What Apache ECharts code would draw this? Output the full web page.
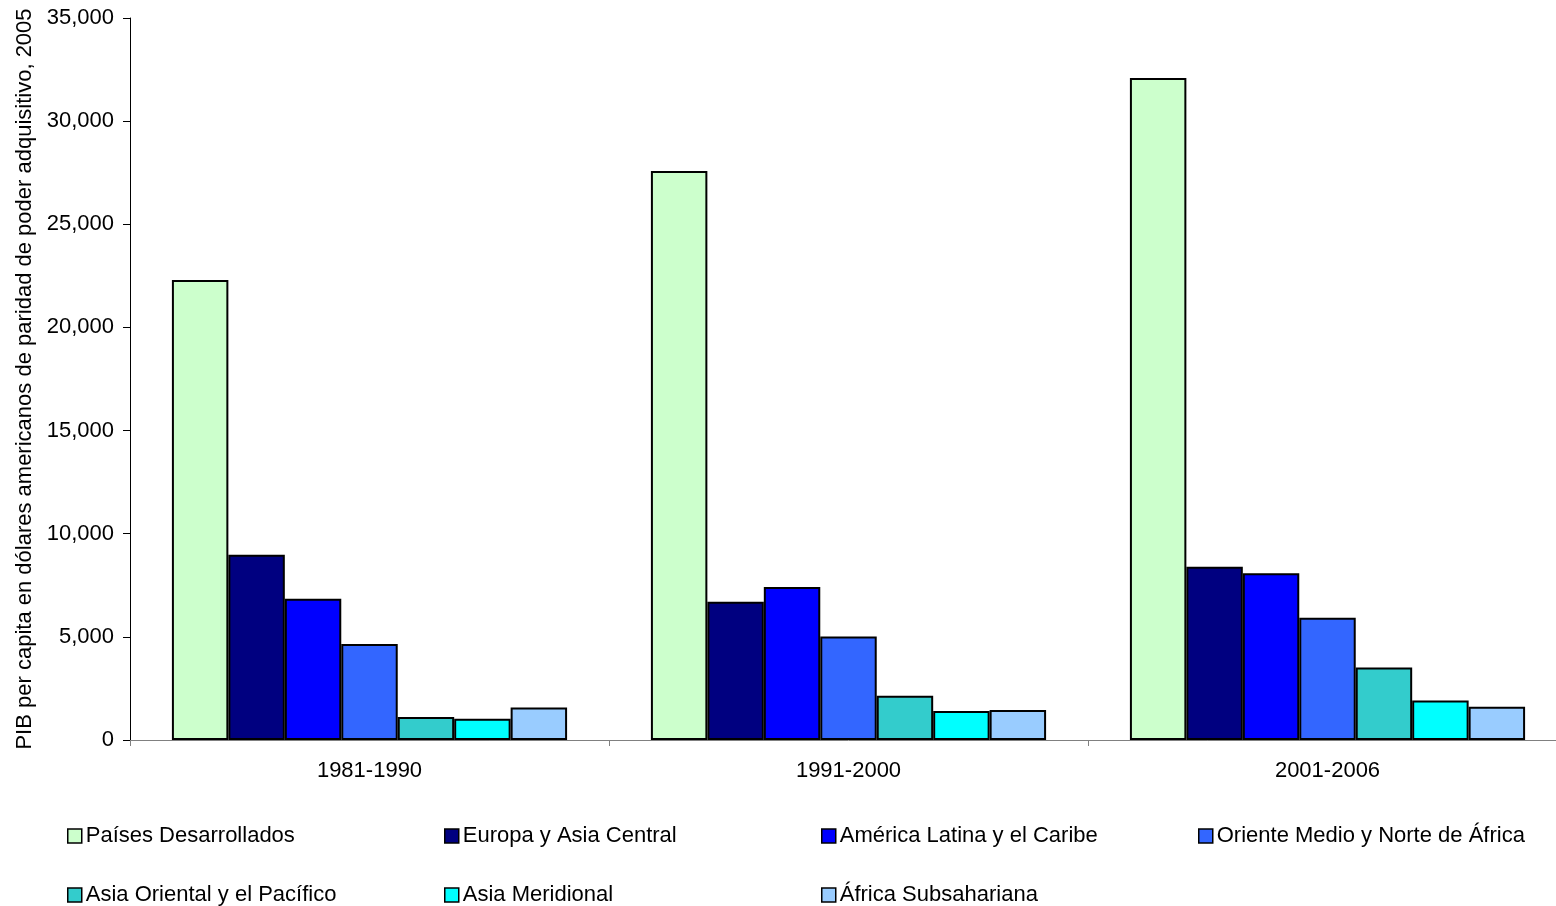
<!DOCTYPE html>
<html>
<head>
<meta charset="utf-8">
<script src="https://cdn.jsdelivr.net/npm/echarts@6/dist/echarts.min.js"></script>
<style>html,body{margin:0;padding:0;background:#fff;overflow:hidden}#c{width:1567px;height:906px}</style>
</head>
<body>
<div id="c"></div>
<script>
var categories = ['1981-1990', '1991-2000', '2001-2006'];
var seriesNames = ['Países Desarrollados', 'Europa y Asia Central', 'América Latina y el Caribe', 'Oriente Medio y Norte de África', 'Asia Oriental y el Pacífico', 'Asia Meridional', 'África Subsahariana'];
var paisesDesarrollados = [22300, 27580, 32090];
var europaAsiaCentral = [8980, 6700, 8400];
var americaLatina = [6850, 7420, 8080];
var orienteMedio = [4650, 5020, 5930];
var asiaOriental = [1110, 2150, 3520];
var asiaMeridional = [1030, 1410, 1910];
var africaSub = [1580, 1450, 1610];
var seriesValues = [paisesDesarrollados, europaAsiaCentral, americaLatina, orienteMedio, asiaOriental, asiaMeridional, africaSub];
var colors = ['#CCFFCC', '#000080', '#0000FF', '#3366FF', '#33CCCC', '#00FFFF', '#99CCFF'];
var yTicks = [0, 5000, 10000, 15000, 20000, 25000, 30000, 35000];
var yName = 'PIB per capita en dólares americanos de paridad de poder adquisitivo, 2005';

var font = 'Arial, "Liberation Sans", sans-serif';
var chart = echarts.init(document.getElementById('c'), null, {renderer: 'canvas'});

var legendPos = [[62, 820], [439, 820], [816, 820], [1193, 820], [62, 879], [439, 879], [816, 879]];
var legends = seriesNames.map(function (n, i) {
  return {
    data: [{name: n, icon: 'rect'}], left: legendPos[i][0], top: legendPos[i][1],
    itemWidth: 14, itemHeight: 14, itemGap: 0,
    itemStyle: {borderColor: '#000', borderWidth: 1.5},
    textStyle: {fontFamily: font, fontSize: 22, color: '#000', padding: [0, 0, 0, -1]},
    selectedMode: false
  };
});

chart.setOption({
  animation: false,
  backgroundColor: '#fff',
  color: colors,
  legend: legends,
  grid: {left: 130, top: 18, right: 0, bottom: 166, containLabel: false},
  xAxis: {
    type: 'category', data: categories,
    axisLine: {lineStyle: {color: '#808080', width: 1}},
    axisTick: {show: true, length: 6, lineStyle: {color: '#808080'}},
    axisLabel: {fontFamily: font, fontSize: 22, color: '#000', margin: 20}
  },
  yAxis: {
    type: 'value', min: 0, max: 35000, interval: 5000,
    name: yName, nameLocation: 'middle', nameGap: 94, nameRotate: 90,
    nameTextStyle: {fontFamily: font, fontSize: 22, color: '#000'},
    axisLine: {show: true, lineStyle: {color: '#000', width: 1}},
    axisTick: {show: true, length: 7, inside: false, lineStyle: {color: '#000'}},
    splitLine: {show: false},
    axisLabel: {fontFamily: font, fontSize: 22, color: '#000', margin: 16,
      formatter: function (v) { return yTicks.indexOf(v) >= 0 ? v.toLocaleString('en-US') : ''; }}
  },
  series: seriesNames.map(function (n, i) {
    return {
      name: n, type: 'bar', data: seriesValues[i],
      barGap: '0%', barCategoryGap: '17.5%',
      itemStyle: {color: colors[i], borderColor: '#000', borderWidth: 2}
    };
  })
});
</script>
</body>
</html>
